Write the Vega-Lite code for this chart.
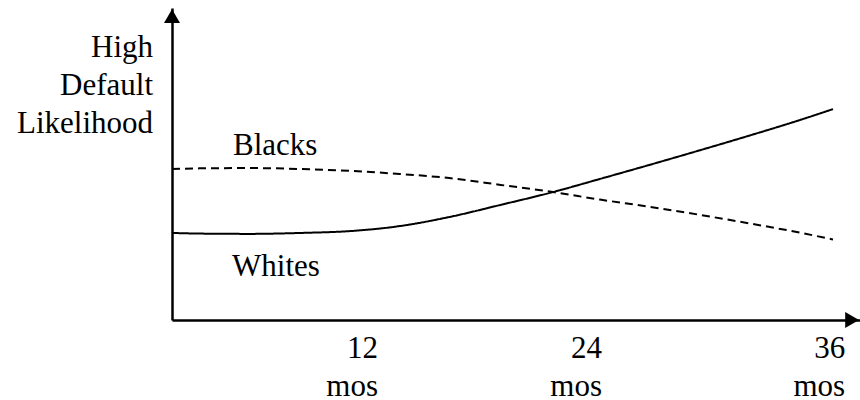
{
  "$schema": "https://vega.github.io/schema/vega-lite/v6.json",
  "autosize": "none",
  "width": 688,
  "height": 312,
  "padding": {"left": 172, "top": 8, "right": 0, "bottom": 80},
  "background": "white",
  "config": {"view": {"stroke": null}, "text": {"font": "Liberation Serif", "fontSize": 31, "color": "black"}},
  "datasets": {
    "curves": [
      {"month": 0, "likelihood": 27.9, "group": "Whites"},
      {"month": 1.5, "likelihood": 27.7, "group": "Whites"},
      {"month": 4.25, "likelihood": 27.6, "group": "Whites"},
      {"month": 7, "likelihood": 27.9, "group": "Whites"},
      {"month": 9.7, "likelihood": 28.5, "group": "Whites"},
      {"month": 12.4, "likelihood": 30.1, "group": "Whites"},
      {"month": 15.1, "likelihood": 33.0, "group": "Whites"},
      {"month": 17.9, "likelihood": 36.9, "group": "Whites"},
      {"month": 20.75, "likelihood": 41.0, "group": "Whites"},
      {"month": 23.3, "likelihood": 45.2, "group": "Whites"},
      {"month": 26, "likelihood": 49.7, "group": "Whites"},
      {"month": 28.75, "likelihood": 54.4, "group": "Whites"},
      {"month": 31.5, "likelihood": 59.2, "group": "Whites"},
      {"month": 34.2, "likelihood": 64.1, "group": "Whites"},
      {"month": 36, "likelihood": 67.6, "group": "Whites"},
      {"month": 0, "likelihood": 48.4, "group": "Blacks"},
      {"month": 1.5, "likelihood": 48.6, "group": "Blacks"},
      {"month": 4.25, "likelihood": 48.7, "group": "Blacks"},
      {"month": 7, "likelihood": 48.4, "group": "Blacks"},
      {"month": 9.7, "likelihood": 47.8, "group": "Blacks"},
      {"month": 12.4, "likelihood": 46.8, "group": "Blacks"},
      {"month": 15.1, "likelihood": 45.5, "group": "Blacks"},
      {"month": 17.9, "likelihood": 43.3, "group": "Blacks"},
      {"month": 20.75, "likelihood": 41.0, "group": "Blacks"},
      {"month": 23.3, "likelihood": 38.6, "group": "Blacks"},
      {"month": 26, "likelihood": 36.3, "group": "Blacks"},
      {"month": 28.75, "likelihood": 33.7, "group": "Blacks"},
      {"month": 31.5, "likelihood": 30.9, "group": "Blacks"},
      {"month": 34.2, "likelihood": 28.0, "group": "Blacks"},
      {"month": 36, "likelihood": 25.8, "group": "Blacks"}
    ],
    "arrows": [
      {"month": 0, "likelihood": 97.4, "shape": "triangle-up"},
      {"month": 37.04, "likelihood": 0, "shape": "triangle-right"}
    ],
    "ticklabels": [
      {"month": 11.22, "likelihood": -12.2, "label": "12\nmos"},
      {"month": 23.42, "likelihood": -12.2, "label": "24\nmos"},
      {"month": 36.66, "likelihood": -12.2, "label": "36\nmos"}
    ],
    "ytitle": [
      {"month": -1.03, "likelihood": 84.3, "label": "High\nDefault\nLikelihood"}
    ],
    "grouplabels": [
      {"month": 3.32, "likelihood": 52.9, "label": "Blacks"},
      {"month": 3.27, "likelihood": 14.1, "label": "Whites"}
    ]
  },
  "layer": [
    {
      "data": {"name": "curves"},
      "mark": {"type": "line", "interpolate": "monotone", "color": "black", "strokeWidth": 2},
      "encoding": {
        "x": {"field": "month", "type": "quantitative", "scale": {"domain": [0, 37.47], "nice": false, "zero": false},
          "axis": {"title": null, "labels": false, "ticks": false, "grid": false, "domainColor": "black", "domainWidth": 2.5}},
        "y": {"field": "likelihood", "type": "quantitative", "scale": {"domain": [0, 100], "nice": false},
          "axis": {"title": null, "labels": false, "ticks": false, "grid": false, "domainColor": "black", "domainWidth": 2.5}},
        "detail": {"field": "group"},
        "strokeDash": {"field": "group", "type": "nominal", "scale": {"domain": ["Blacks", "Whites"], "range": [[8, 5], [1, 0]]}, "legend": null}
      }
    },
    {
      "data": {"name": "arrows"},
      "mark": {"type": "point", "filled": true, "color": "black", "size": 256, "opacity": 1},
      "encoding": {
        "x": {"field": "month", "type": "quantitative"},
        "y": {"field": "likelihood", "type": "quantitative"},
        "shape": {"field": "shape", "type": "nominal", "scale": null}
      }
    },
    {
      "data": {"name": "ticklabels"},
      "mark": {"type": "text", "align": "right", "baseline": "alphabetic", "lineBreak": "\n", "lineHeight": 38},
      "encoding": {
        "x": {"field": "month", "type": "quantitative"},
        "y": {"field": "likelihood", "type": "quantitative"},
        "text": {"field": "label"}
      }
    },
    {
      "data": {"name": "ytitle"},
      "mark": {"type": "text", "align": "right", "baseline": "alphabetic", "lineBreak": "\n", "lineHeight": 38},
      "encoding": {
        "x": {"field": "month", "type": "quantitative"},
        "y": {"field": "likelihood", "type": "quantitative"},
        "text": {"field": "label"}
      }
    },
    {
      "data": {"name": "grouplabels"},
      "mark": {"type": "text", "align": "left", "baseline": "alphabetic"},
      "encoding": {
        "x": {"field": "month", "type": "quantitative"},
        "y": {"field": "likelihood", "type": "quantitative"},
        "text": {"field": "label"}
      }
    }
  ]
}
